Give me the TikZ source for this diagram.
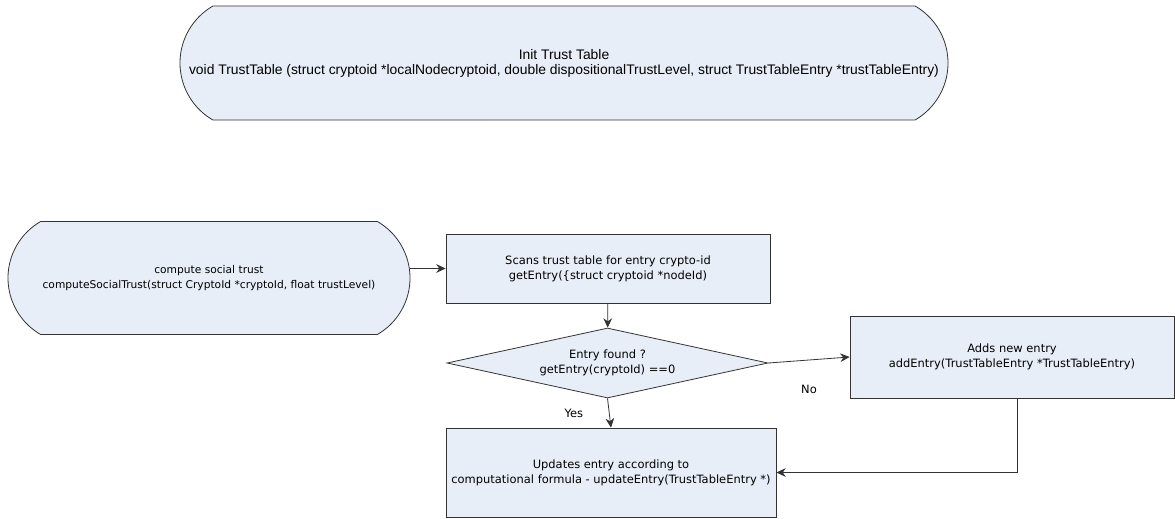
\documentclass[tikz,border=0pt]{standalone}
\usepackage{fontspec}
\setmainfont{DejaVu Sans}
\newfontfamily\titlefont{Liberation Sans}
\usetikzlibrary{shapes.geometric,shapes.misc,arrows.meta}
\definecolor{boxfill}{HTML}{E8EEF8}
\definecolor{boxline}{HTML}{333333}

\begin{document}
\begin{tikzpicture}[x=0.75pt,y=-0.75pt,
    flow/.style={draw=boxline,line width=0.6pt,-{Stealth[length=7pt,width=6.5pt]}},
    lbl/.style={font=\fontsize{8.6}{10}\selectfont}]
  \useasboundingbox (0,0) rectangle (1175,518);

  \begin{scope}[every node/.style={draw=boxline,fill=boxfill,line width=0.6pt,align=center,inner sep=0pt,font=\fontsize{8.6}{11.25}\selectfont}]
    \node[rounded rectangle,rounded rectangle arc length=120,minimum width=576pt,minimum height=85.5pt,font=\titlefont\fontsize{10.4}{11.25}\selectfont] (init) at (564,63)
      {Init Trust Table\\void TrustTable (struct cryptoid *localNodecryptoid, double dispositionalTrustLevel, struct TrustTableEntry *trustTableEntry)};
    \node[rounded rectangle,rounded rectangle arc length=120,minimum width=301.5pt,minimum height=84.75pt,font=\fontsize{8}{11.25}\selectfont] (social) at (209,278)
      {compute social trust\\computeSocialTrust(struct CryptoId *cryptoId, float trustLevel)};
    \node[rectangle,minimum width=243pt,minimum height=51.75pt] (scan) at (608,268.5)
      {Scans trust table for entry crypto-id\\getEntry(\{struct cryptoid *nodeId)};
    \node[diamond,aspect=4.6,minimum width=240.75pt,minimum height=52.5pt] (found) at (607.5,363)
      {Entry found ?\\getEntry(cryptoId) ==0};
    \node[rectangle,minimum width=243pt,minimum height=61.5pt] (add) at (1012,357)
      {Adds new entry\\addEntry(TrustTableEntry *TrustTableEntry)};
    \node[rectangle,minimum width=247.5pt,minimum height=66.75pt] (update) at (611,472.5)
      {Updates entry according to\\computational formula - updateEntry(TrustTableEntry *)};
  \end{scope}

  \draw[flow] (scan.west -| social.east) -- (scan.west);
  \draw[flow] (scan) -- (found);
  \draw[flow] (found.east) -- node[lbl,midway,yshift=-21.75pt] (no) {No} (add.west);
  \draw[flow] (found.south) -- node[lbl,midway,left=16pt] (yes) {Yes} (update.north);
  \draw[flow] ([xshift=3.75pt]add.south) |- (update.east);

\end{tikzpicture}
\end{document}
